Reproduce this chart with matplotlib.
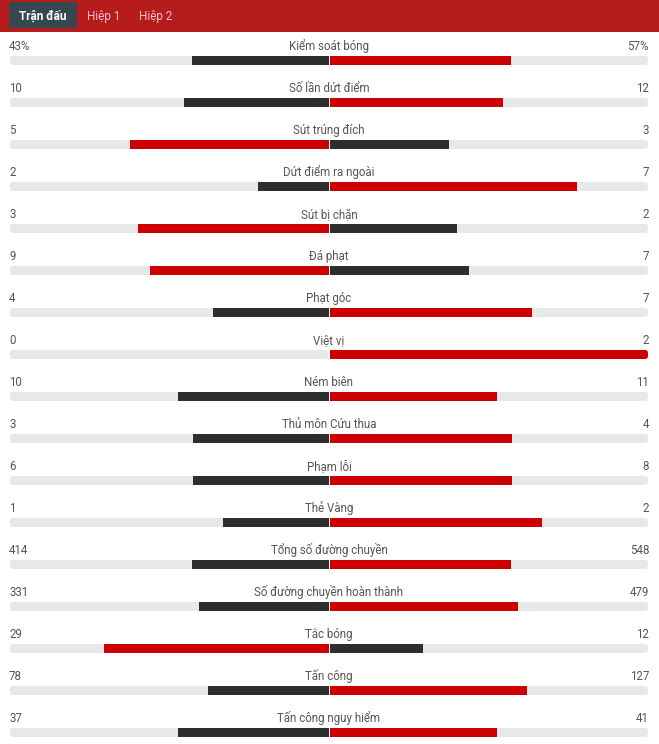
import matplotlib.pyplot as plt
from matplotlib.patches import FancyBboxPatch, Rectangle

plt.rcParams['font.family'] = ['Roboto', 'DejaVu Sans']

# stats data
labels = ['Kiểm soát bóng', 'Số lần dứt điểm', 'Sút trúng đích', 'Dứt điểm ra ngoài',
          'Sút bị chặn', 'Đá phạt', 'Phạt góc', 'Việt vị', 'Ném biên',
          'Thủ môn Cứu thua', 'Phạm lỗi', 'Thẻ Vàng', 'Tổng số đường chuyền',
          'Số đường chuyền hoàn thành', 'Tắc bóng', 'Tấn công', 'Tấn công nguy hiểm']
home = [43, 10, 5, 2, 3, 9, 4, 0, 10, 3, 6, 1, 414, 331, 29, 78, 37]
away = [57, 12, 3, 7, 2, 7, 7, 2, 11, 4, 8, 2, 548, 479, 12, 127, 41]
suffix = ['%'] + [''] * 16
tabs = ['Trận đấu', 'Hiệp 1', 'Hiệp 2']

W, H = 659, 744
fig = plt.figure(figsize=(W / 100, H / 100), dpi=100)
ax = fig.add_axes([0, 0, 1, 1])
ax.set_xlim(0, W)
ax.set_ylim(H, 0)
ax.axis('off')

RED = '#cc0000'
DARK = '#2e2e2e'
GREY = '#e8e8e8'
TXT = '#555555'

# header
ax.add_patch(Rectangle((0, 0), W, 32, color='#b71c1c', lw=0))
ax.add_patch(FancyBboxPatch((9, 2), 68, 26, boxstyle='round,pad=0,rounding_size=2',
                            color='#37474f', lw=0))
tab_x = [43, 104, 156]
for i, (t, x) in enumerate(zip(tabs, tab_x)):
    ax.text(x, 20, t, ha='center', va='baseline', fontsize=8.5,
            color='white' if i == 0 else '#f8bbd0',
            fontweight='bold' if i == 0 else 'normal')

left, mid, right = 10, 329, 648
half = mid - left
bh = 9
for i, lab in enumerate(labels):
    ty = 50 + 42 * i
    by = 60.5 + 42 * i
    ax.text(mid, ty, lab, ha='center', va='baseline', fontsize=8.3, color=TXT)
    ax.text(left - 1, ty, f'{home[i]}{suffix[i]}', ha='left', va='baseline', fontsize=8.3, color=TXT)
    ax.text(right + 1, ty, f'{away[i]}{suffix[i]}', ha='right', va='baseline', fontsize=8.3, color=TXT)
    # background tracks
    ax.add_patch(FancyBboxPatch((left, by - bh / 2), half - 1, bh,
                                boxstyle='round,pad=0,rounding_size=3', color=GREY, lw=0))
    ax.add_patch(FancyBboxPatch((mid + 1, by - bh / 2), half - 1, bh,
                                boxstyle='round,pad=0,rounding_size=3', color=GREY, lw=0))
    tot = home[i] + away[i]
    lw_ = (half - 1) * home[i] / tot
    rw_ = (half - 1) * away[i] / tot
    lc = RED if home[i] > away[i] else DARK
    rc = RED if away[i] > home[i] else DARK
    if lw_ > 0:
        ax.add_patch(Rectangle((mid - lw_, by - bh / 2), lw_, bh, color=lc, lw=0))
    if rw_ > 0:
        if rw_ >= half - 2:
            ax.add_patch(FancyBboxPatch((mid + 1, by - bh / 2), rw_, bh,
                                        boxstyle='round,pad=0,rounding_size=3', color=rc, lw=0))
            ax.add_patch(Rectangle((mid + 1, by - bh / 2), 6, bh, color=rc, lw=0))
        else:
            ax.add_patch(Rectangle((mid + 1, by - bh / 2), rw_, bh, color=rc, lw=0))

fig.savefig('out.png', dpi=100)
